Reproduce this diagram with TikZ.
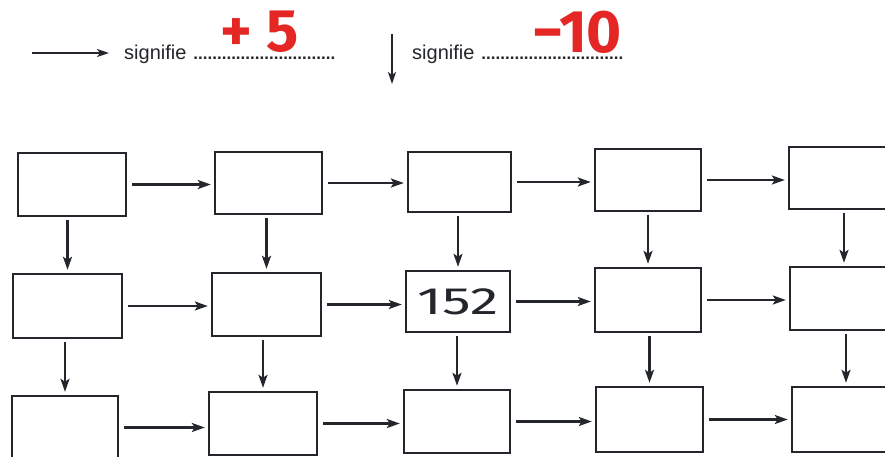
\documentclass[tikz,border=0pt]{standalone}
\usepackage{fontspec}
\setmainfont{Liberation Sans}
\newfontfamily\handfont{Fira Sans}
\usetikzlibrary{arrows.meta}
\definecolor{ink}{RGB}{35,38,42}
\definecolor{marker}{RGB}{228,38,36}
\tikzset{
  boxnode/.style 2 args={draw=ink, line width=2.4pt, inner sep=0pt,
    minimum width=#1pt, minimum height=#2pt},
  arr/.style={draw=ink, line width=2.3pt,
    -{Stealth[length=13pt,width=9pt,inset=3pt]}},
  harr/.style={arr, shorten <=5pt, shorten >=3pt},
  varr/.style={arr, shorten <=2.5pt, shorten >=3pt},
  legarr/.style={draw=ink, line width=1.8pt,
    -{Stealth[length=12pt,width=8pt,inset=3pt]}},
  legtext/.style={anchor=base west, inner sep=0pt, text=ink},
  redmark/.style={inner sep=0pt, text=marker, font=\handfont\bfseries\fontsize{60}{66}\selectfont},
  numtext/.style={inner sep=0pt, text=ink, font=\handfont\fontsize{38}{44}\selectfont}
}
\begin{document}
\begin{tikzpicture}[x=1pt,y=-1pt]
\useasboundingbox (0,0) rectangle (885,457);
\fill[white] (0,0) rectangle (885,457);
\clip (0,0) rectangle (885,457);

% legend
\coordinate (la) at (32,53);
\coordinate (lb) at (109,53);
\draw[legarr] (la) -- (lb);
\node[legtext] (s1) at (124,60) {\fontsize{20}{24}\selectfont signifie\hspace{7pt}\bfseries\fontsize{17}{20}\selectfont ..............................};
\node[redmark] (r1) at (260,32) {+\hspace{14pt}5};

\coordinate (lc) at (392,34);
\coordinate (ld) at (392,84);
\draw[legarr] (lc) -- (ld);
\node[legtext] (s2) at (412,60) {\fontsize{20}{24}\selectfont signifie\hspace{7pt}\bfseries\fontsize{17}{20}\selectfont ..............................};
\node[redmark] (r2) at (577,32) {\char"2212 10};

% boxes
\node[boxnode={108}{63}] (b11) at (72,184.5) {};
\node[boxnode={107}{62}] (b12) at (268.5,183) {};
\node[boxnode={103}{60}] (b13) at (459.5,182) {};
\node[boxnode={106}{62}] (b14) at (648,180) {};
\node[boxnode={108}{62}] (b15) at (843,178) {};

\node[boxnode={109}{64}] (b21) at (67.5,306) {};
\node[boxnode={109}{63}] (b22) at (266.5,304.5) {};
\node[boxnode={104}{61}] (b23) at (458,301.5) {};
\node[boxnode={106}{64}] (b24) at (648,300) {};
\node[boxnode={108}{63}] (b25) at (844,298.5) {};

\node[boxnode={106}{63}] (b31) at (65,427.5) {};
\node[boxnode={108}{63}] (b32) at (263,423.5) {};
\node[boxnode={106}{63}] (b33) at (457,421.5) {};
\node[boxnode={107}{65}] (b34) at (649.5,419.5) {};
\node[boxnode={108}{65}] (b35) at (846,419.5) {};

\node[numtext] (n152) at (b23.center) {\scalebox{1.5}[1]{152}};

% horizontal arrows
\foreach \r in {1,2,3}{
  \foreach \c/\d in {1/2,2/3,3/4,4/5}{
    \draw[harr] (b\r\c.east) -- (b\r\c.east -| b\r\d.west);
  }
}
% vertical arrows
\foreach \c in {1,2,3,4,5}{
  \foreach \r/\s in {1/2,2/3}{
    \draw[varr] (b\r\c.south -| b\s\c.north) -- (b\s\c.north);
  }
}
\end{tikzpicture}
\end{document}
